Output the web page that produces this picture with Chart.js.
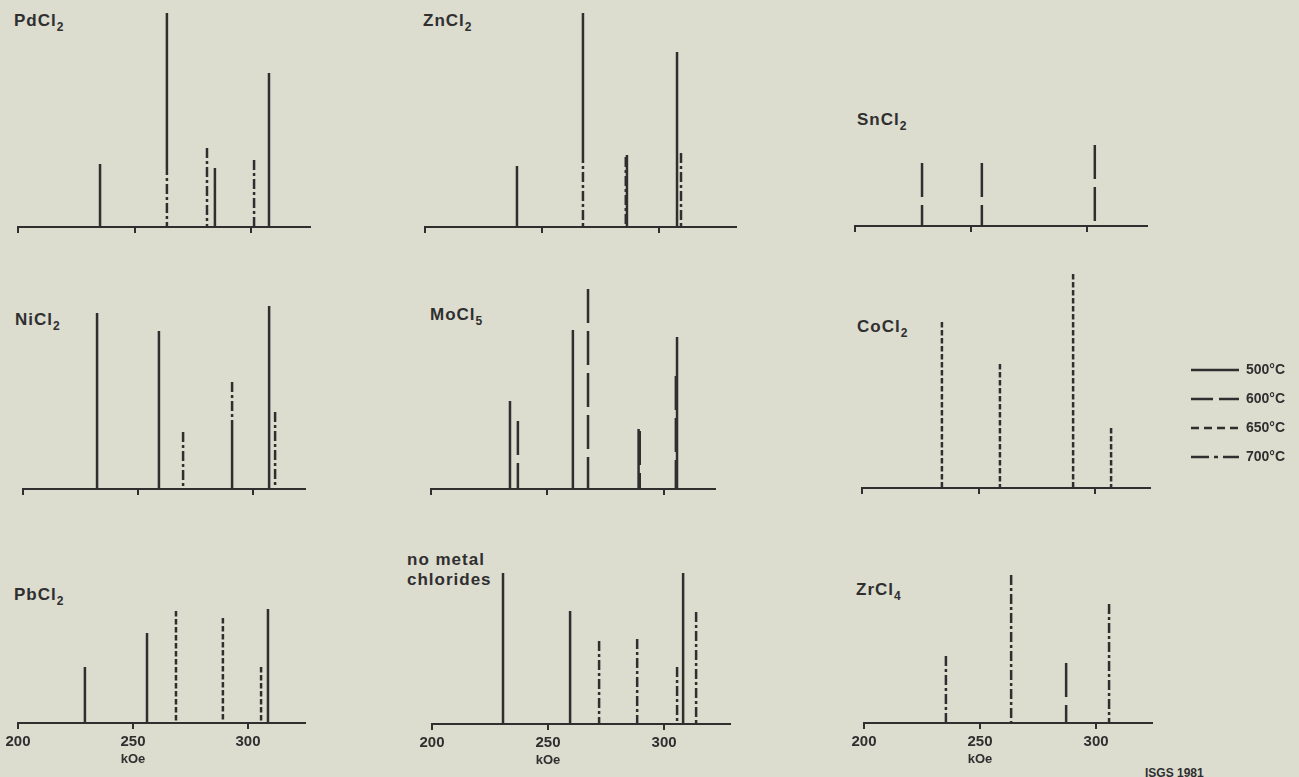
<!DOCTYPE html>
<html>
<head>
<meta charset="utf-8">
<title>Resonance lines</title>
<script src="https://cdn.jsdelivr.net/npm/chart.js@4.4.1/dist/chart.umd.min.js"></script>
<style>
body {
    margin: 0;
    width: 1299px;
    height: 777px;
    overflow: hidden;
    position: relative;
    background: #dcdccf;
    color: #2f2f2f;
    font-family: "Liberation Sans", Arial, sans-serif;
}
canvas { position: absolute; pointer-events: none; }
.name {
    position: absolute;
    font-size: 17px;
    font-weight: bold;
    line-height: 1;
    letter-spacing: 1px;
    white-space: nowrap;
}
.name span { font-size: 12px; vertical-align: -5px; letter-spacing: 0; }
#isgs { position: absolute; left: 1145px; top: 767px; font-size: 12px; font-weight: bold; line-height: 1; }
</style>
</head>
<body>

<div class="name" style="left:14px;top:12px">PdCl<span>2</span></div>
<div class="name" style="left:423px;top:12px">ZnCl<span>2</span></div>
<div class="name" style="left:857px;top:111px">SnCl<span>2</span></div>
<div class="name" style="left:15px;top:311px">NiCl<span>2</span></div>
<div class="name" style="left:430px;top:306px">MoCl<span>5</span></div>
<div class="name" style="left:857px;top:318px">CoCl<span>2</span></div>
<div class="name" style="left:14px;top:586px">PbCl<span>2</span></div>
<div class="name" style="left:407px;top:550px;line-height:20px">no metal<br>chlorides</div>
<div class="name" style="left:856px;top:581px">ZrCl<span>4</span></div>
<div id="isgs">ISGS 1981</div>

<canvas id="pdcl2"></canvas>
<canvas id="zncl2"></canvas>
<canvas id="sncl2"></canvas>
<canvas id="nicl2"></canvas>
<canvas id="mocl5"></canvas>
<canvas id="cocl2"></canvas>
<canvas id="pbcl2"></canvas>
<canvas id="none"></canvas>
<canvas id="zrcl4"></canvas>
<canvas id="legend"></canvas>

<script>
// Lines: [field in kOe, relative height] or [field, height, lower end]
// (lower end used where a shorter line of another temperature sits at the same field)
const temps = ["500°C", "600°C", "650°C", "700°C"];
const xTicks = [200, 250, 300];

const pdcl2_500 = [[235.2, 63], [263.9, 214, 62], [284.5, 59], [307.7, 154]];
const pdcl2_700 = [[263.9, 62], [281.1, 79], [301.3, 67]];

const zncl2_500 = [[239.3, 61], [267.5, 214, 74], [286.3, 72], [307.7, 175]];
const zncl2_700 = [[267.5, 74], [285.8, 70], [309.4, 74]];

const sncl2_600 = [[228.9, 63], [254.7, 63], [303.4, 81]];

const nicl2_500 = [[232.2, 176], [259.1, 158], [290.9, 59], [307.0, 183]];
const nicl2_700 = [[269.6, 57], [290.9, 107, 59], [309.6, 77]];

const mocl5_500 = [[233.9, 88], [260.9, 159], [289.1, 60], [305.6, 152]];
const mocl5_600 = [[237.3, 68], [267.4, 200], [289.6, 58], [305.1, 113]];

const cocl2_650 = [[234.3, 166], [259.2, 124], [290.6, 214], [306.9, 60]];

const pbcl2_500 = [[229.1, 56], [256.1, 90], [308.7, 114]];
const pbcl2_650 = [[268.7, 112], [289.1, 105], [305.7, 56]];

const none_500 = [[230.6, 151], [259.5, 113], [308.2, 151]];
const none_700 = [[272.0, 83], [288.4, 85], [305.6, 57], [313.8, 112]];

const zrcl4_600 = [[287.1, 60]];
const zrcl4_700 = [[235.3, 67], [263.4, 148], [305.6, 119]];

const ink = "#2f2f2f";
const yMax = 220;

/* dash patterns for the vertical lines and for the legend samples */
const lineDash = { "500°C": [], "600°C": [34, 8], "650°C": [5.5, 2.5], "700°C": [10, 3, 3, 3] };
const legendDash = { "500°C": [], "600°C": [22, 6], "650°C": [8, 5], "700°C": [18, 5, 4, 5] };

/* panel placement: pixel of 200 kOe, pixel of axis end, pixel of baseline */
const panels = [
    { id: "pdcl2", x200: 18,  xEnd: 310,  base: 227, xMax: 325.3, labels: false, lines: [["500°C", pdcl2_500], ["700°C", pdcl2_700]] },
    { id: "zncl2", x200: 425, xEnd: 736,  base: 227, xMax: 332.9, labels: false, lines: [["500°C", zncl2_500], ["700°C", zncl2_700]] },
    { id: "sncl2", x200: 855, xEnd: 1147, base: 226, xMax: 325.9, labels: false, lines: [["600°C", sncl2_600]] },
    { id: "nicl2", x200: 23,  xEnd: 305,  base: 489, xMax: 322.6, labels: false, lines: [["500°C", nicl2_500], ["700°C", nicl2_700]] },
    { id: "mocl5", x200: 431, xEnd: 715,  base: 489, xMax: 321.9, labels: false, lines: [["500°C", mocl5_500], ["600°C", mocl5_600]] },
    { id: "cocl2", x200: 862, xEnd: 1150, base: 488, xMax: 323.6, labels: false, lines: [["650°C", cocl2_650]] },
    { id: "pbcl2", x200: 18,  xEnd: 305,  base: 723, xMax: 324.8, labels: true,  lines: [["500°C", pbcl2_500], ["650°C", pbcl2_650]] },
    { id: "none",  x200: 432, xEnd: 730,  base: 724, xMax: 328.4, labels: true,  lines: [["500°C", none_500], ["700°C", none_700]] },
    { id: "zrcl4", x200: 864, xEnd: 1152, base: 723, xMax: 324.1, labels: true,  lines: [["600°C", zrcl4_600], ["700°C", zrcl4_700]] }
];

// turn [field, height, low] entries into one broken line: top, bottom, gap
function stickData(sticks) {
    let pts = [];
    for (let i = 0; i < sticks.length; i++) {
        let s = sticks[i];
        pts.push({ x: s[0], y: s[1] });   // start at the top so the dashes begin there
        pts.push({ x: s[0], y: s.length > 2 ? s[2] : 0 });
        pts.push({ x: s[0], y: null });
    }
    return pts;
}

/* "kOe" under the 250 tick of the bottom row */
const unitPlugin = {
    id: "unitLabel",
    afterDraw(chart, args, opts) {
        if (!opts.show) return;
        let ctx = chart.ctx;
        let x = chart.scales.x.getPixelForValue(250);
        ctx.save();
        ctx.font = "bold 13px 'Liberation Sans', Arial, sans-serif";
        ctx.fillStyle = ink;
        ctx.textAlign = "center";
        ctx.textBaseline = "alphabetic";
        ctx.fillText("kOe", x, chart.chartArea.bottom + 40);
        ctx.restore();
    }
};

for (let p of panels) {
    let axisH = p.labels ? 45 : 12;
    let canvas = document.getElementById(p.id);
    canvas.width = p.xEnd - p.x200 + 30;
    canvas.height = 5 + yMax + axisH;
    canvas.style.left = (p.x200 - 20) + "px";
    canvas.style.top = (p.base - yMax - 5) + "px";

    let datasets = [];
    for (let l of p.lines) {
        datasets.push({
            label: l[0],
            data: stickData(l[1]),
            borderColor: ink,
            borderWidth: 2.5,
            borderDash: lineDash[l[0]],
            borderCapStyle: "butt",
            pointRadius: 0,
            spanGaps: false,
            tension: 0,
            fill: false
        });
    }

    new Chart(canvas, {
        type: "line",
        data: { datasets: datasets },
        options: {
            responsive: false,
            animation: false,
            events: [],
            layout: { autoPadding: false, padding: { left: 20, right: 10, top: 5, bottom: 0 } },
            scales: {
                x: {
                    type: "linear",
                    min: 200,
                    max: p.xMax,
                    afterBuildTicks: function (scale) {
                        scale.ticks = xTicks.map(function (v) { return { value: v }; });
                    },
                    afterFit: function (scale) { scale.height = axisH; },
                    grid: { drawOnChartArea: false, drawTicks: true, tickLength: 6, color: ink, lineWidth: 2 },
                    border: { display: true, color: ink, width: 2 },
                    ticks: {
                        display: p.labels,
                        color: ink,
                        padding: 4,
                        maxRotation: 0,
                        autoSkip: false,
                        font: { family: "'Liberation Sans', Arial, sans-serif", size: 15, weight: "bold" }
                    }
                },
                y: { display: false, min: 0, max: yMax }
            },
            plugins: {
                legend: { display: false },
                tooltip: { enabled: false },
                unitLabel: { show: p.labels }
            }
        },
        plugins: [unitPlugin]
    });
}

/* legend: a chart with empty datasets, only its legend is shown */
let legendCanvas = document.getElementById("legend");
legendCanvas.width = 240;
legendCanvas.height = 180;
legendCanvas.style.left = "1176px";
legendCanvas.style.top = "348px";

new Chart(legendCanvas, {
    type: "line",
    data: {
        datasets: temps.map(function (t) {
            return { label: t, data: [], borderColor: ink, borderWidth: 2.5, borderDash: legendDash[t] };
        })
    },
    options: {
        responsive: false,
        animation: false,
        events: [],
        scales: { x: { display: false }, y: { display: false } },
        plugins: {
            tooltip: { enabled: false },
            legend: {
                position: "left",
                align: "start",
                labels: {
                    usePointStyle: true,
                    pointStyle: "line",
                    pointStyleWidth: 48,
                    padding: 15,
                    color: ink,
                    font: { family: "'Liberation Sans', Arial, sans-serif", size: 14, weight: "bold" },
                    // point-style items do not carry the dataset dash, so set it here
                    generateLabels: function (chart) {
                        return chart.data.datasets.map(function (ds, i) {
                            return {
                                text: ds.label,
                                datasetIndex: i,
                                fillStyle: ink,
                                strokeStyle: ink,
                                fontColor: ink,
                                lineWidth: ds.borderWidth,
                                lineDash: ds.borderDash,
                                lineCap: "butt",
                                pointStyle: "line",
                                hidden: false
                            };
                        });
                    }
                }
            }
        }
    }
});
</script>
</body>
</html>
